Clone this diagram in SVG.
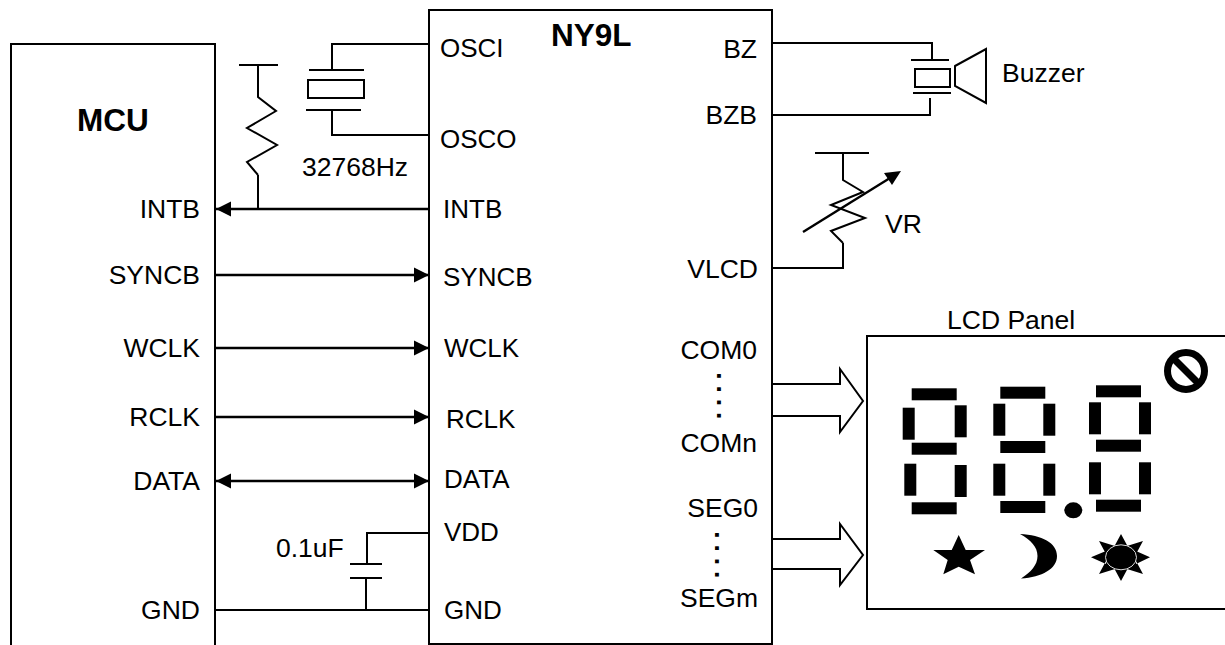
<svg xmlns="http://www.w3.org/2000/svg" width="1225" height="645" viewBox="0 0 1225 645">
<style>
text{font-family:"Liberation Sans",Arial,sans-serif;font-size:26.5px;fill:#000}
.b{font-weight:bold;font-size:31.5px}
.i{font-size:26px}
.e{text-anchor:end}
.d{font-weight:bold;letter-spacing:5.9px}
.l{fill:none;stroke:#000;stroke-width:2}
.a{fill:none;stroke:#000;stroke-width:2.4;marker-end:url(#ah)}
.s{fill:#000;stroke:none}
</style>
<defs>
<marker id="ah" markerUnits="userSpaceOnUse" markerWidth="16" markerHeight="16" refX="15" refY="8" orient="auto-start-reverse"><path d="M0,0.5 L15,8 L0,15.5 z" fill="#000"/></marker>
</defs>
<rect width="1225" height="645" fill="#fff"/>
<g id="mcu">
<path class="l" d="M11,645 V44 H215 V645"/>
<text class="b" x="77" y="131">MCU</text>
<text class="e" x="200" y="218">INTB</text>
<text class="e" x="200" y="284">SYNCB</text>
<text class="e" x="200" y="357">WCLK</text>
<text class="e" x="200" y="426">RCLK</text>
<text class="e" x="200" y="490">DATA</text>
<text class="e" x="200" y="619">GND</text>
</g>
<g id="ny9l">
<rect class="l" x="429" y="10" width="343" height="634"/>
<text class="b" x="551" y="46">NY9L</text>
<text class="i" x="440" y="57">OSCI</text>
<text class="i" x="440" y="148">OSCO</text>
<text class="i" x="443" y="218">INTB</text>
<text class="i" x="443" y="286">SYNCB</text>
<text class="i" x="444" y="357">WCLK</text>
<text class="i" x="446" y="428">RCLK</text>
<text class="i" x="444" y="488">DATA</text>
<text class="i" x="444" y="541">VDD</text>
<text class="i" x="444" y="619">GND</text>
<text class="e" x="757" y="58">BZ</text>
<text class="e" x="757" y="124">BZB</text>
<text class="e" x="758" y="278">VLCD</text>
<text class="e" x="757" y="359">COM0</text>
<text class="d" transform="translate(717 372.3) rotate(90)">....</text>
<text class="e" x="757" y="452">COMn</text>
<text class="e" x="758" y="517">SEG0</text>
<text class="d" transform="translate(715.3 531.3) rotate(90)">....</text>
<text class="e" x="758" y="607">SEGm</text>
</g>
<g id="connectors">
<path class="a" d="M429,209 H216"/>
<path class="a" d="M215,275 H429"/>
<path class="a" d="M215,348 H429"/>
<path class="a" d="M215,417 H429"/>
<path class="a" style="marker-start:url(#ah)" d="M216,481 H429"/>
<path class="l" d="M258,209 V175"/>
<path class="l" d="M429,44 H332 V70"/>
<path class="l" d="M429,135 H332 V110"/>
<path class="l" d="M771,43 H932 V60"/>
<path class="l" d="M771,115 H930 V98"/>
<path class="l" d="M771,268 H843 V243"/>
<path class="l" d="M429,533 H367 V564"/>
<path class="l" d="M215,610 H429"/>
<path class="l" d="M366,578 V610"/>
<path class="l" d="M771,384 H840 V369 L863,401 L840,432 V416 H771"/>
<path class="l" d="M771,539 H840 V524 L863,555 L840,585 V569 H771"/>
</g>
<g id="pullup-resistor">
<path class="l" d="M239,65 H278 M258,65 V97 L276,111 L247,128 L277,145 L247,162 L258,175"/>
</g>
<g id="crystal">
<path class="l" d="M309,70 H364 M306,110 H361"/>
<rect class="l" x="308" y="80" width="56" height="18"/>
<text x="302" y="176">32768Hz</text>
</g>
<g id="buzzer">
<path class="l" d="M911,60 H949 M913,93 H951"/>
<rect class="l" x="915" y="69" width="35" height="18"/>
<path class="l" d="M955,66 L986,49 V103 L955,86 Z"/>
<text x="1002" y="82">Buzzer</text>
</g>
<g id="vr">
<path class="l" d="M815,153 H869 M843,153 V180 L863,192 L831,205 L865,218 L831,231 L843,243"/>
<path class="l" d="M803,232 L890,178" style="stroke-width:2.4"/>
<path class="s" d="M901,171 L884,173 L892,185 Z"/>
<text x="885" y="233">VR</text>
</g>
<g id="capacitor">
<path class="l" d="M350,564 H382 M350,578 H382"/>
<text x="276" y="557">0.1uF</text>
</g>
<g id="lcd-panel">
<path class="l" d="M1230,336 H867 V609 H1230"/>
<text x="947" y="329">LCD Panel</text>
<g class="s">
<rect x="911.7" y="388.3" width="45" height="12"/><rect x="902.7" y="407.7" width="12" height="32"/><rect x="954.7" y="405.3" width="12" height="32"/><rect x="911.7" y="442.7" width="45" height="12"/><rect x="904.3" y="463.7" width="12" height="32"/><rect x="954.7" y="465" width="12" height="32"/><rect x="911.7" y="502.3" width="45" height="12"/>
<rect x="1000.3" y="386.7" width="45" height="12"/><rect x="993.3" y="403.7" width="12" height="32"/><rect x="1043.3" y="403.7" width="12" height="32"/><rect x="1000.3" y="441" width="45" height="12"/><rect x="993.3" y="463.7" width="12" height="32"/><rect x="1043.3" y="463.7" width="12" height="32"/><rect x="1000.3" y="501" width="45" height="12"/>
<rect x="1096" y="385.3" width="45" height="12"/><rect x="1089" y="402.3" width="12" height="32"/><rect x="1139" y="402.3" width="12" height="32"/><rect x="1096" y="439.7" width="45" height="12"/><rect x="1089" y="462.3" width="12" height="32"/><rect x="1139" y="462.3" width="12" height="32"/><rect x="1096" y="499.7" width="45" height="12"/>
<ellipse cx="1073.3" cy="510.3" rx="9" ry="8"/>
<path d="M958.7,535 L965.7,550 L985,550 L970,560 L975,574.3 L958.7,566.7 L943.3,574.3 L947.7,560 L933.3,550 L951.7,550 Z"/>
<path d="M1020,534 C1042,535 1057,543 1057,556 C1057,569 1042,577 1021,578.5 C1031,572 1037.5,565 1037.5,556 C1037.5,547 1031,540 1020,534 Z"/>
<path d="M1121,534 L1128,547 H1114 Z M1121,581 L1128,568 H1114 Z M1091,557.3 L1106,551 V564 Z M1150,557.3 L1136,551 V564 Z M1099,541 L1115,546 L1106,554 Z M1143,541 L1127,546 L1136,554 Z M1099,574 L1115,569 L1106,561 Z M1143,574 L1127,569 L1136,561 Z"/>
<ellipse cx="1121" cy="557.3" rx="15.5" ry="12.5" stroke="#ddd" stroke-width="1"/>
</g>
<g fill="none" stroke="#000" stroke-width="7"><circle cx="1186" cy="371" r="18.5"/><path d="M1173,358 L1199,384"/></g>
</g>
</svg>
